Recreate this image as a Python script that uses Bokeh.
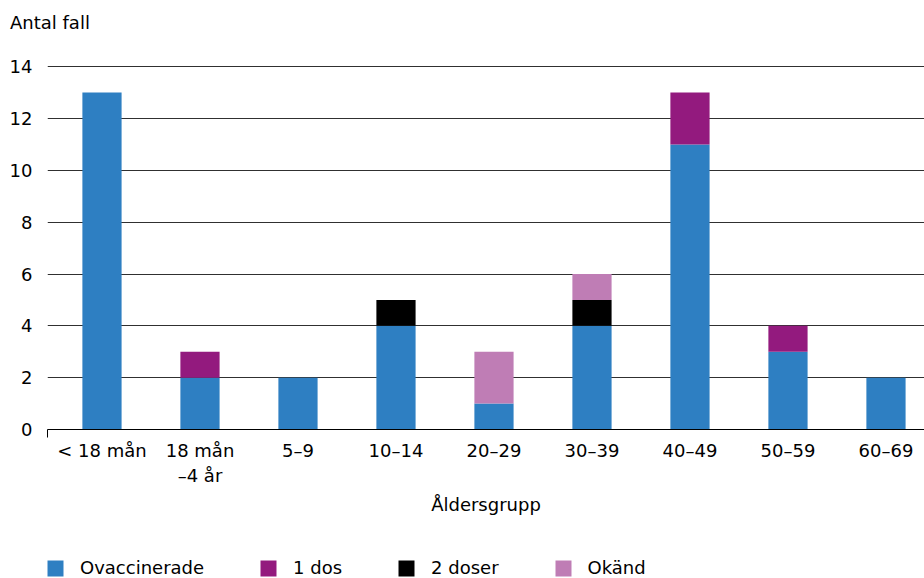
from bokeh.plotting import figure
from bokeh.layouts import column
from bokeh.models import (ColumnDataSource, FixedTicker, Range1d, Legend, LegendItem, Div)
from bokeh.embed import file_html
from bokeh.resources import INLINE

# Age groups and case counts by vaccination status
age_groups = ["< 18 mån", "18 mån\n–4 år", "5–9", "10–14", "20–29", "30–39", "40–49", "50–59", "60–69"]
ovaccinerade = [13, 2, 2, 4, 1, 4, 11, 3, 2]
en_dos = [0, 1, 0, 0, 0, 0, 2, 1, 0]
tva_doser = [0, 0, 0, 1, 0, 1, 0, 0, 0]
okand = [0, 0, 0, 0, 2, 1, 0, 0, 0]

series_names = ["Ovaccinerade", "1 dos", "2 doser", "Okänd"]
series_values = [ovaccinerade, en_dos, tva_doser, okand]
colors = ["#2e7fc2", "#931a7e", "#000000", "#bf7db5"]

FONT = "DejaVu Sans"
FS = "18px"

# Caption for the value axis
caption = Div(text="Antal fall", width=924, height=40, margin=(0, 0, 0, 0),
              styles={"font-family": FONT, "font-size": FS, "color": "black",
                      "padding-left": "10px", "padding-top": "12px",
                      "line-height": "22px"})

x = list(range(len(age_groups)))
p = figure(width=924, height=508, output_backend="svg", toolbar_location=None,
           x_range=Range1d(-0.556, 8.393), y_range=Range1d(0, 14.2),
           min_border_left=47, min_border_right=0, min_border_top=21,
           min_border_bottom=119)
p.outline_line_color = None
p.background_fill_color = "white"

# Stacked bars
bottom = [0] * len(x)
for name, vals, col in zip(series_names, series_values, colors):
    top = [b + v for b, v in zip(bottom, vals)]
    src = ColumnDataSource(dict(x=x, bottom=bottom, top=top))
    p.vbar(x="x", bottom="bottom", top="top", width=0.4, source=src,
           fill_color=col, line_color=None)
    bottom = top

# Axes
p.xgrid.grid_line_color = None
p.ygrid.grid_line_color = "#303030"
p.ygrid.grid_line_width = 1
p.ygrid.ticker = FixedTicker(ticks=list(range(0, 15, 2)))

p.yaxis.ticker = FixedTicker(ticks=list(range(0, 15, 2)))
p.yaxis.axis_line_color = None
p.yaxis.major_tick_line_color = None
p.yaxis.minor_tick_line_color = None
p.yaxis.major_label_standoff = 9
p.yaxis.major_label_text_font = FONT
p.yaxis.major_label_text_font_size = FS
p.yaxis.major_label_text_color = "black"

p.xaxis.ticker = FixedTicker(ticks=x, minor_ticks=[-0.556])
p.xaxis.major_label_overrides = {i: lab for i, lab in enumerate(age_groups)}
p.xaxis.axis_line_color = "black"
p.xaxis.major_tick_line_color = None
p.xaxis.minor_tick_line_color = "black"
p.xaxis.minor_tick_in = 0
p.xaxis.minor_tick_out = 8
p.xaxis.major_label_standoff = 2
p.xaxis.major_label_text_font = FONT
p.xaxis.major_label_text_font_size = FS
p.xaxis.major_label_text_color = "black"
p.xaxis.axis_label = "Åldersgrupp"
p.xaxis.axis_label_standoff = 5
p.xaxis.axis_label_text_font = FONT
p.xaxis.axis_label_text_font_size = FS
p.xaxis.axis_label_text_font_style = "normal"
p.xaxis.axis_label_text_color = "black"

# Legend strip beneath the chart (swatch renderers sit outside the visible range)
lg = figure(width=924, height=30, output_backend="svg", toolbar_location=None,
            x_range=Range1d(0, 1), y_range=Range1d(0, 1),
            min_border_left=0, min_border_right=0, min_border_top=0, min_border_bottom=0)
lg.outline_line_color = None
lg.axis.visible = False
lg.grid.visible = False
items = []
for name, col in zip(series_names, colors):
    r = lg.vbar(x=[5], top=[5], bottom=[4], width=0.1, fill_color=col, line_color=None)
    items.append(LegendItem(label=name, renderers=[r]))
legend = Legend(items=items, orientation="horizontal", location=(-2, 0),
                glyph_width=20, glyph_height=20, label_standoff=15, spacing=54,
                label_text_font=FONT, label_text_font_size=FS,
                label_text_color="black", border_line_color=None,
                background_fill_alpha=0, margin=0, padding=0)
lg.add_layout(legend, "center")

layout = column(caption, p, lg, spacing=0)
open("out.html", "w").write(file_html(layout, INLINE))
